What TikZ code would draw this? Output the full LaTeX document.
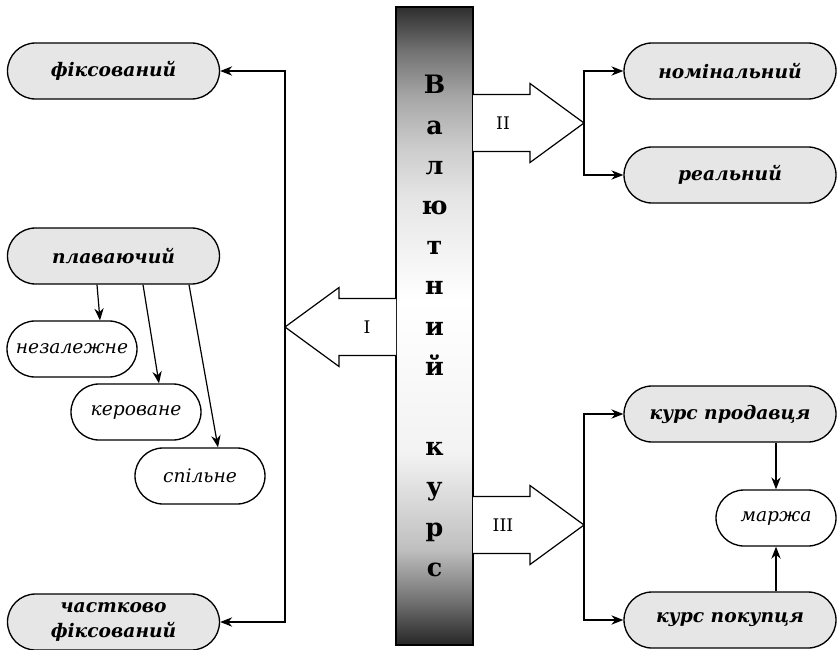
\documentclass[tikz,border=0pt]{standalone}
\usepackage{fontspec}
\setmainfont{DejaVu Serif}
\usetikzlibrary{positioning,arrows.meta,calc}
\definecolor{boxgray}{HTML}{E6E6E6}
\pgfdeclareverticalshading{barshade}{100bp}{color(0bp)=(black!85); color(25bp)=(black!85);
  color(28.5bp)=(black!55); color(32.5bp)=(black!25); color(40bp)=(black!5); color(52bp)=(white);
  color(60bp)=(black!10); color(64bp)=(black!20); color(68bp)=(black!35); color(71.5bp)=(black!55);
  color(75bp)=(black!82); color(100bp)=(black!82)}
\tikzset{
  kind/.style={draw, line width=1pt, rounded corners=21pt, fill=boxgray, minimum width=159pt, minimum height=42pt,
    align=center, font=\fontsize{14}{18.5}\selectfont\bfseries\itshape},
  sub/.style={draw, line width=1pt, rounded corners=21pt, fill=white, minimum width=97.5pt, minimum height=42pt,
    font=\fontsize{14}{16}\selectfont\itshape},
  bigarrow/.style={draw, fill=white},
  roman/.style={font=\fontsize{13}{15}\selectfont}
}
\begin{document}
\begin{tikzpicture}[x=0.75pt, y=-0.75pt, line width=0.9pt, >={Stealth[length=9pt,width=7pt]}]
   \useasboundingbox (0,0) rectangle (837,649);
   % central bar
   \node[draw, shade, shading=barshade,
         minimum width=57.75pt, minimum height=478.5pt, inner sep=0pt] (bar) at (434.5,326) {};
   \foreach \l [count=\i from 0] in {В,а,л,ю,т,н,и,й,,к,у,р,с}
      \node[anchor=base, inner sep=0pt, font=\fontsize{19}{22}\selectfont\bfseries] (l\i) at (434.5,{93.8+40.2*\i}) {\l};
   % block arrows
   \coordinate (tipI)   at (285,327);
   \coordinate (tipII)  at (584,123);
   \coordinate (tipIII) at (584,525);
   \draw[bigarrow] (396,298.5) -- (339,298.5) -- (339,287.5) -- (tipI) -- (339,366.5) -- (339,355.5) -- (396,355.5);
   \draw[bigarrow] (473,94.5) -- (530,94.5) -- (530,83.5) -- (tipII) -- (530,162.5) -- (530,151.5) -- (473,151.5);
   \draw[bigarrow] (473,496.5) -- (530,496.5) -- (530,485.5) -- (tipIII) -- (530,564.5) -- (530,553.5) -- (473,553.5);
   \node[roman] (nI)   at (367,327) {I};
   \node[roman] (nII)  at (503,123) {II};
   \node[roman] (nIII) at (503,525) {III};
   % left side
   \node[kind] (fix) at (113.5,71) {фіксований};
   \node[kind] (float) [below of=fix, node distance=138.75pt] {плаваючий};
   \node[kind] (part) [below of=float, node distance=274.5pt] {частково\\фіксований};
   \node[sub] (indep) at (72,349)  {незалежне};
   \node[sub] (manag) at (136,412) {кероване};
   \node[sub] (joint) at (200,476) {спільне};
   % right side
   \node[kind] (nom) at (730,71) {номінальний};
   \node[kind] (real) [below of=nom, node distance=78pt] {реальний};
   \node[kind] (sell) at (730,414) {курс продавця};
   \node[kind] (buy) [below of=sell, node distance=154.5pt] {курс покупця};
   \node[sub, minimum width=90pt] (marg) at (776,518) {маржа};
   % connectors
   \draw[<->] (fix.east) -| (tipI) |- (part.east);
   \draw[->] (tipII) |- (nom.west);
   \draw[->] (tipII) |- (real.west);
   \draw[->] (tipIII) |- (sell.west);
   \draw[->] (tipIII) |- (buy.west);
   \draw[->] (marg.north |- sell.south) -- (marg.north);
   \draw[->] (marg.south |- buy.north) -- (marg.south);
   \draw[->] ($(float.south)+(-16.5,0)$) -- ($(indep.north)+(28,0)$);
   \draw[->] ($(float.south)+(29.5,0)$) -- ($(manag.north)+(23,0)$);
   \draw[->] ($(float.south)+(75.5,0)$) -- ($(joint.north)+(18,0)$);
\end{tikzpicture}
\end{document}
